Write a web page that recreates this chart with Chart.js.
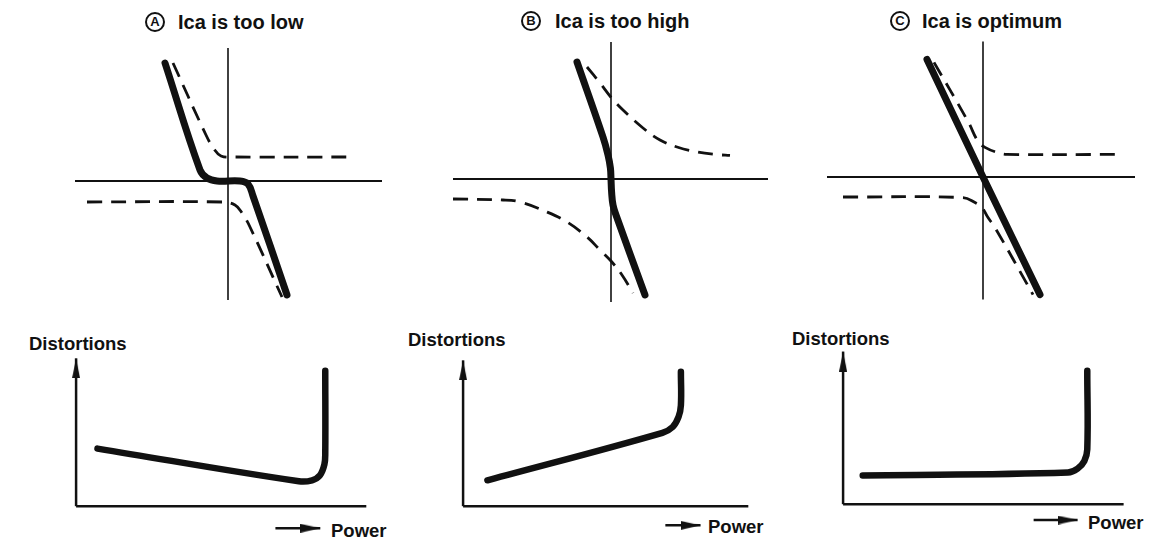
<!DOCTYPE html>
<html><head><meta charset="utf-8">
<script src="https://cdn.jsdelivr.net/npm/chart.js@4"></script>
<style>
html,body{margin:0;padding:0;background:#fff;}
body{width:1165px;height:546px;position:relative;overflow:hidden;font-family:"Liberation Sans",Arial,sans-serif;font-weight:bold;color:#111;}
canvas{position:absolute;}
.t{position:absolute;white-space:nowrap;line-height:1;}
.circ{position:absolute;width:16px;height:16px;border:2px solid #111;border-radius:50%;font-size:13px;text-align:center;line-height:16px;}
</style></head><body>
<div id="labels"></div>
<canvas id="cA" width="340" height="290" style="left:58px;top:36px"></canvas>
<canvas id="cB" width="340" height="290" style="left:441px;top:34px"></canvas>
<canvas id="cC" width="340" height="290" style="left:813px;top:32px"></canvas>
<canvas id="dA" width="350" height="200" style="left:33px;top:339px"></canvas>
<canvas id="dB" width="350" height="200" style="left:420px;top:339px"></canvas>
<canvas id="dC" width="350" height="200" style="left:800px;top:337px"></canvas>
<script>
// ---- text ----
const letters = ['A', 'B', 'C'];
const titles = ['Ica is too low', 'Ica is too high', 'Ica is optimum'];
const yLabel = 'Distortions';
const xLabel = 'Power';

// ---- top row: transfer curves, axis units (origin = axis crossing) ----
// axis extents [hMin, hMax, vMin, vMax]
const axisA = [-7.65, 7.7, -5.95, 6.65];
const axisB = [-7.9, 7.85, -6.15, 6.85];
const axisC = [-7.8, 7.6, -6.12, 6.78];

const solidA = [[-3.15,5.9],[-1.4,0.55],[-1.05,0.15],[-0.55,0],[0.6,0],[1.0,-0.15],[1.25,-0.75],[2.95,-5.7]];
const dashUpA = [[-2.75,5.9],[-1.1,2.3],[-0.7,1.6],[-0.35,1.25],[0.3,1.2],[6.2,1.2]];
const dashLoA = [[-7.05,-1.05],[-0.3,-1.05],[0.35,-1.2],[0.7,-1.6],[1.1,-2.3],[2.7,-5.8]];

const solidB = [[-1.7,5.85],[-0.4,2.1],[-0.15,1.2],[-0.03,0.55],[0,0],[0.03,-0.65],[0.1,-1.3],[0.25,-1.8],[1.7,-5.8]];
const dashUpB = [[-1.2,5.6],[-0.55,4.8],[0.03,4.05],[0.6,3.45],[1.6,2.55],[2.45,1.95],[3.3,1.6],[4.3,1.35],[5.3,1.22],[5.95,1.18]];
const dashLoB = [[-7.9,-1.0],[-5.4,-1.05],[-4.55,-1.15],[-3.2,-1.65],[-2.2,-2.15],[-1.2,-2.9],[-0.55,-3.55],[0,-4.1],[0.55,-4.8],[1.1,-5.7]];

const solidC = [[-2.8,5.88],[0,0],[2.85,-5.88]];
const dashUpC = [[-2.45,5.73],[-0.75,2.78],[-0.25,1.78],[0.1,1.48],[0.7,1.23],[1.2,1.13],[6.75,1.13]];
const dashLoC = [[-7.0,-1.0],[-1.0,-1.03],[-0.4,-1.28],[-0.05,-1.53],[0.25,-2.03],[0.6,-2.53],[2.5,-5.88]];

// ---- bottom row: distortion vs power ----
// axis extents [xMax, yMax(arrow tip)]
const distAxisA = [9.9, 10.27];
const distAxisB = [9.73, 10.13];
const distAxisC = [9.57, 10.6];
const distA = [[0.73,4.0],[7.6,1.73],[8.05,1.8],[8.32,2.15],[8.47,2.9],[8.5,3.7],[8.5,9.4]];
const distB = [[0.83,1.8],[6.8,5.1],[7.15,5.5],[7.35,6.2],[7.43,7.0],[7.43,9.33]];
const distC = [[0.67,2.0],[7.67,2.2],[8.0,2.47],[8.23,3.0],[8.33,3.8],[8.33,9.27]];
// "→ Power" arrows [xStart, xEnd, y]
const powerArrowA = [6.8, 8.33, -1.53];
const powerArrowB = [6.9, 8.1, -1.33];
const powerArrowC = [6.5, 8.0, -1.1];

// ---- helpers ----
const INK = '#111';
const pts = a => a.map(p => ({x: p[0], y: p[1]}));

function arrowHead(w, h) {
  const c = document.createElement('canvas');
  c.width = w; c.height = 2 * h;
  const g = c.getContext('2d');
  g.fillStyle = INK;
  g.beginPath(); g.moveTo(w / 2, h); g.lineTo(w, 2 * h); g.lineTo(0, 2 * h); g.closePath(); g.fill();
  return c;
}
const headY = arrowHead(8, 20);
const headX = arrowHead(9, 20);

function line(data, width, opts) {
  return Object.assign({data: pts(data), showLine: true, borderColor: INK, borderWidth: width,
    pointRadius: 0, fill: false, tension: 0, borderCapStyle: 'butt', borderJoinStyle: 'round'}, opts || {});
}
function arrowLine(data, width, head, rot) {
  const last = data.length - 1;
  return line(data, width, {pointStyle: head, rotation: rot,
    pointRadius: c => c.dataIndex === last ? 3 : 0, pointBackgroundColor: INK, pointBorderWidth: 0});
}

function makeChart(id, xr, yr, datasets) {
  new Chart(document.getElementById(id), {
    type: 'scatter',
    data: {datasets},
    options: {
      responsive: false, animation: false, events: [],
      layout: {padding: 0},
      plugins: {legend: {display: false}, tooltip: {enabled: false}, title: {display: false}},
      scales: {
        x: {type: 'linear', display: false, min: xr[0], max: xr[1]},
        y: {type: 'linear', display: false, min: yr[0], max: yr[1]}
      }
    }
  });
}

function topPanel(id, axis, solid, up, lo) {
  makeChart(id, [-8.5, 8.5], [-7.25, 7.25], [
    line([[axis[0], 0], [axis[1], 0]], 2.2),
    line([[0, axis[2]], [0, axis[3]]], 1.6),
    line(up, 2.8, {borderDash: [15, 9], tension: 0.4}),
    line(lo, 2.8, {borderDash: [15, 9], tension: 0.4}),
    line(solid, 7, {tension: 0.4, borderCapStyle: 'round'})
  ]);
}
function bottomPanel(id, axis, curve, arrow) {
  makeChart(id, [-40 / 30, 310 / 30], [-2, 170 / 15], [
    line([[0, 0], [axis[0], 0]], 2.5),
    arrowLine([[0, 0], [0, axis[1]]], 2.5, headY, 0),
    arrowLine([[arrow[0], arrow[2]], [arrow[1], arrow[2]]], 2.5, headX, 90),
    line(curve, 6.5, {tension: 0.4, borderCapStyle: 'round'})
  ]);
}

topPanel('cA', axisA, solidA, dashUpA, dashLoA);
topPanel('cB', axisB, solidB, dashUpB, dashLoB);
topPanel('cC', axisC, solidC, dashUpC, dashLoC);
bottomPanel('dA', distAxisA, distA, powerArrowA);
bottomPanel('dB', distAxisB, distB, powerArrowB);
bottomPanel('dC', distAxisC, distC, powerArrowC);

// ---- labels ----
const L = document.getElementById('labels');
function txt(s, left, top, size, cls) {
  const d = document.createElement('div');
  d.className = cls || 't';
  d.textContent = s;
  d.style.left = left + 'px'; d.style.top = top + 'px';
  if (size) d.style.fontSize = size + 'px';
  L.appendChild(d);
}
const titleCircle = [145, 521, 890];
const titleText = [178, 555, 922];
const titleTop = [12, 11, 11];
letters.forEach((l, i) => {
  txt(l, titleCircle[i], titleTop[i], null, 'circ');
  txt(titles[i], titleText[i], titleTop[i], 20);
});
const distLeft = [29, 408, 792], distTop = [335, 331, 330];
const powLeft = [331, 708, 1088], powTop = [522, 518, 514];
for (let i = 0; i < 3; i++) {
  txt(yLabel, distLeft[i], distTop[i], 18.5);
  txt(xLabel, powLeft[i], powTop[i], 18.5);
}
</script>
</body></html>
